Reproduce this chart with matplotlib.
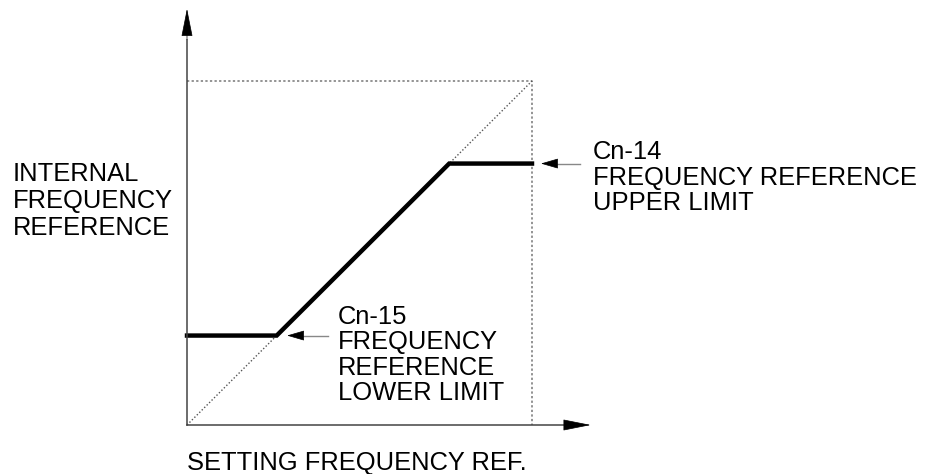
import matplotlib
matplotlib.use("Agg")
import matplotlib.pyplot as plt

# values (percent of full scale)
lower_limit = 26
upper_limit = 76
full_scale = 100

y_label = ["INTERNAL", "FREQUENCY", "REFERENCE"]
upper_label = ["Cn-14", "FREQUENCY REFERENCE", "UPPER LIMIT"]
lower_label = ["Cn-15", "FREQUENCY", "REFERENCE", "LOWER LIMIT"]
x_label = "SETTING FREQUENCY REF."

W, H = 926, 474
plt.rcParams['font.family'] = ['Liberation Sans', 'DejaVu Sans']

fig = plt.figure(figsize=(W / 100, H / 100), dpi=100)
# origin at pixel (187, 425), full scale at pixel (532, 81)
ax = fig.add_axes([187 / W, (H - 425) / H, 345 / W, 344 / H])
ax.set_xlim(0, full_scale)
ax.set_ylim(0, full_scale)
ax.axis('off')

def px_text(x, y, s):
    fig.text(x / W, (H - y) / H, s, fontsize=18.4, color='black', ha='left', va='baseline')

# dotted box and diagonal
ax.plot([0, full_scale, full_scale], [full_scale, full_scale, 0], ls=(0, (1.5, 1.5)), color='#777777', lw=1.1, clip_on=False)
ax.plot([0, full_scale], [0, full_scale], ls=(0, (1, 1.5)), color='#555555', lw=1.0, clip_on=False)

# limited frequency reference
ax.plot([0, lower_limit, upper_limit, full_scale], [lower_limit, lower_limit, upper_limit, upper_limit],
        color='black', lw=3.2, solid_joinstyle='miter', clip_on=False)

# axes with arrows
ax.plot([0, 0], [0, 112], color='#444444', lw=1.1, clip_on=False)
ax.plot([0, 111], [0, 0], color='#444444', lw=1.1, clip_on=False)
head = dict(arrowstyle='-|>,head_length=18,head_width=3.6', mutation_scale=1, color='black', lw=0.5, shrinkA=0, shrinkB=0)
ax.annotate('', xy=(0, 121), xytext=(0, 112), arrowprops=head, annotation_clip=False)
ax.annotate('', xy=(117, 0), xytext=(110, 0), arrowprops=head, annotation_clip=False)

# pointer arrows to the limits
small = dict(arrowstyle='-|>,head_length=11,head_width=3.2', mutation_scale=1, color='black', lw=0.5, shrinkA=0, shrinkB=0)
ax.plot([106, 114], [upper_limit, upper_limit], color='#888888', lw=1.0, clip_on=False)
ax.annotate('', xy=(102.6, upper_limit), xytext=(107, upper_limit), arrowprops=small, annotation_clip=False)
ax.plot([33, 41], [lower_limit, lower_limit], color='#888888', lw=1.0, clip_on=False)
ax.annotate('', xy=(29, lower_limit), xytext=(33.5, lower_limit), arrowprops=small, annotation_clip=False)

# labels
for i, s in enumerate(y_label):
    px_text(13, 181 + 27 * i, s)
for i, s in enumerate(upper_label):
    px_text(593, 159 + 25.5 * i, s)
for i, s in enumerate(lower_label):
    px_text(338, 324 + 25.5 * i, s)
px_text(187, 470, x_label)

fig.savefig("out.png", dpi=100)
